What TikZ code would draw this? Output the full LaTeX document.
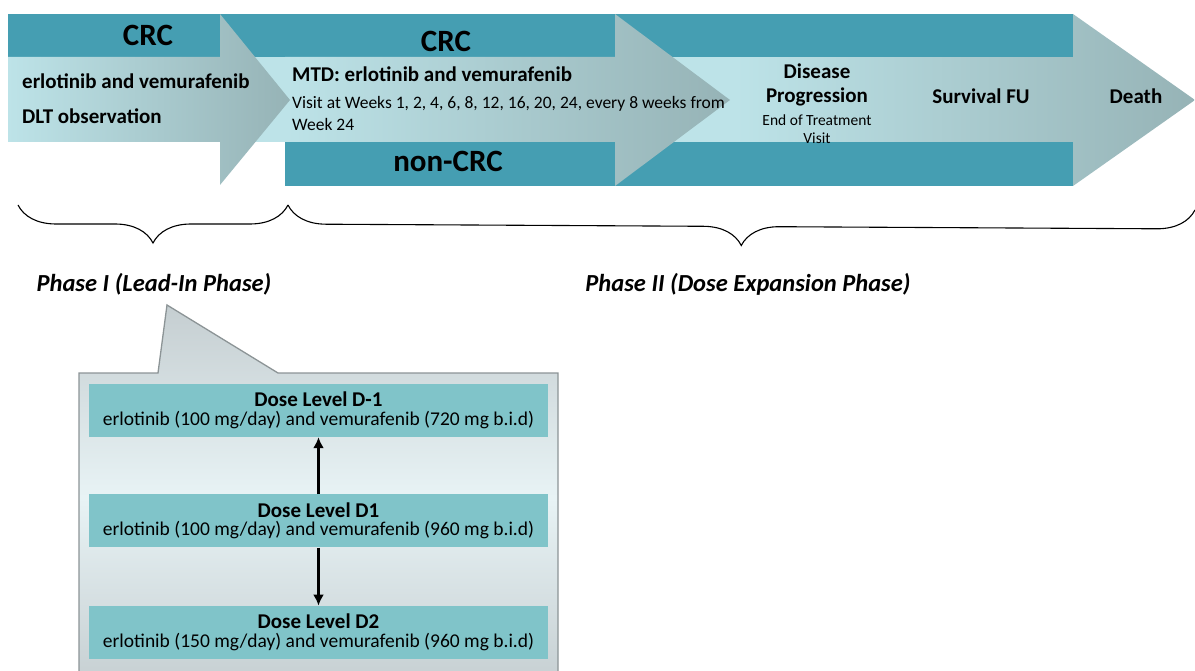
\documentclass[tikz,border=0pt]{standalone}
\usepackage{fontspec}
\setmainfont{Carlito}
\usepackage{xcolor}
\usepackage{tikz}
\usetikzlibrary{arrows.meta,positioning,decorations.pathreplacing}

\definecolor{bandteal}{RGB}{69,158,178}
\definecolor{lightcyan}{RGB}{189,227,232}
\definecolor{tipgrey}{RGB}{150,179,182}
\definecolor{dosefill}{RGB}{128,196,201}
\definecolor{calloutgrey}{RGB}{197,206,209}
\definecolor{calloutlight}{RGB}{232,243,245}
\definecolor{calloutedge}{RGB}{140,148,150}
\newcommand{\setfs}[2]{\fontsize{#1}{#2}\selectfont}

\begin{document}
\begin{tikzpicture}[
  x=1pt, y=-1pt,
  band/.style={fill=bandteal, draw=none},
  flow/.style={left color=lightcyan, right color=tipgrey, draw=none},
  crctxt/.style={font=\setfs{31}{32}\bfseries, inner sep=0pt},
  stagetxt/.style={font=\setfs{21}{24}\bfseries, inner sep=0pt, align=center},
  visittxt/.style={font=\setfs{17.5}{22}, inner sep=0pt, align=left},
  eottxt/.style={font=\setfs{15.5}{18}, inner sep=0pt, align=center},
  phasetxt/.style={font=\setfs{24.5}{26}\bfseries\itshape, inner sep=0pt},
  brc/.style={decorate, decoration={brace, mirror, amplitude=38pt}, line width=1.1pt},
  callout/.style={draw=calloutedge, line width=1.3pt, top color=calloutgrey, bottom color=calloutgrey, middle color=calloutlight},
  dose/.style={fill=dosefill, minimum width=459pt, minimum height=53pt, inner sep=0pt, align=center, font=\setfs{19.5}{18.5}},
  updown/.style={-{Latex[length=11pt,width=11pt]}, line width=2.8pt}
]
  \useasboundingbox (0,0) rectangle (1195,671);

  % phase II arrow
  \fill[lightcyan] (220,57) rectangle (740,142);
  \shade[flow] (735,57) -- (1073,57) -- (1073,14) -- (1195,100) -- (1073,186) -- (1073,142) -- (735,142) -- cycle;
  \fill[band] (220,14) rectangle (1073,57);
  \fill[band] (285,142) rectangle (1073,186);
  \shade[flow] (285,57) -- (615,57) -- (615,14) -- (730,100) -- (615,186) -- (615,142) -- (285,142) -- cycle;

  % phase I arrow
  \fill[band] (8,14) rectangle (220,57);
  \shade[flow] (8,57) -- (220,57) -- (220,14) -- (290,100) -- (220,185) -- (220,142) -- (8,142) -- cycle;

  \node[crctxt] (crcA) at (148,35) {CRC};
  \node[stagetxt, anchor=west] (lead) at (22,81) {erlotinib and vemurafenib};
  \node[stagetxt, anchor=west] (dlt) at (22,116) {DLT observation};

  \node[crctxt] (crcB) at (446,41) {CRC};
  \node[stagetxt, anchor=west] (mtd) at (292,74) {MTD: erlotinib and vemurafenib};
  \node[visittxt, anchor=west] (visits) at (292,113) {Visit at Weeks 1, 2, 4, 6, 8, 12, 16, 20, 24, every 8 weeks from\\Week 24};
  \node[crctxt] (noncrc) at (448,161) {non-CRC};

  \node[stagetxt] (prog) at (817,85) {Disease\\Progression};
  \node[eottxt] (eot) at (817,129) {End of Treatment\\Visit};
  \node[stagetxt] (surv) at (981,96) {Survival FU};
  \node[stagetxt] (death) at (1136,96) {Death};

  % braces
  \coordinate (brA) at (18,205);
  \coordinate (brB) at (288,205);
  \coordinate (brC) at (1195,210);
  \draw[brc] (brA) -- (brB);
  \draw[brc] (brB) -- (brC);
  \node[phasetxt] (ph1) at (154,284) {Phase I (Lead-In Phase)};
  \node[phasetxt] (ph2) at (748,284) {Phase II (Dose Expansion Phase)};

  % lead-in callout
  \begin{scope}
    \clip (0,0) rectangle (1195,671);
    \path[callout] (79,373) -- (158,373) -- (167,305) -- (278,373) -- (558,373) -- (558,690) -- (79,690) -- cycle;
  \end{scope}

  \node[dose] (dm1) at (318.5,410.5) {{\setfs{21}{18.5}\bfseries Dose Level D-1}\\erlotinib (100 mg/day) and vemurafenib (720 mg b.i.d)};
  \node[dose, below=57pt of dm1] (d1) {{\setfs{21}{18.5}\bfseries Dose Level D1}\\erlotinib (100 mg/day) and vemurafenib (960 mg b.i.d)};
  \node[dose, below=58pt of d1] (d2) {{\setfs{21}{18.5}\bfseries Dose Level D2}\\erlotinib (150 mg/day) and vemurafenib (960 mg b.i.d)};

  \draw[updown] (d1) -- (dm1);
  \draw[updown] (d1) -- (d2);
\end{tikzpicture}
\end{document}
